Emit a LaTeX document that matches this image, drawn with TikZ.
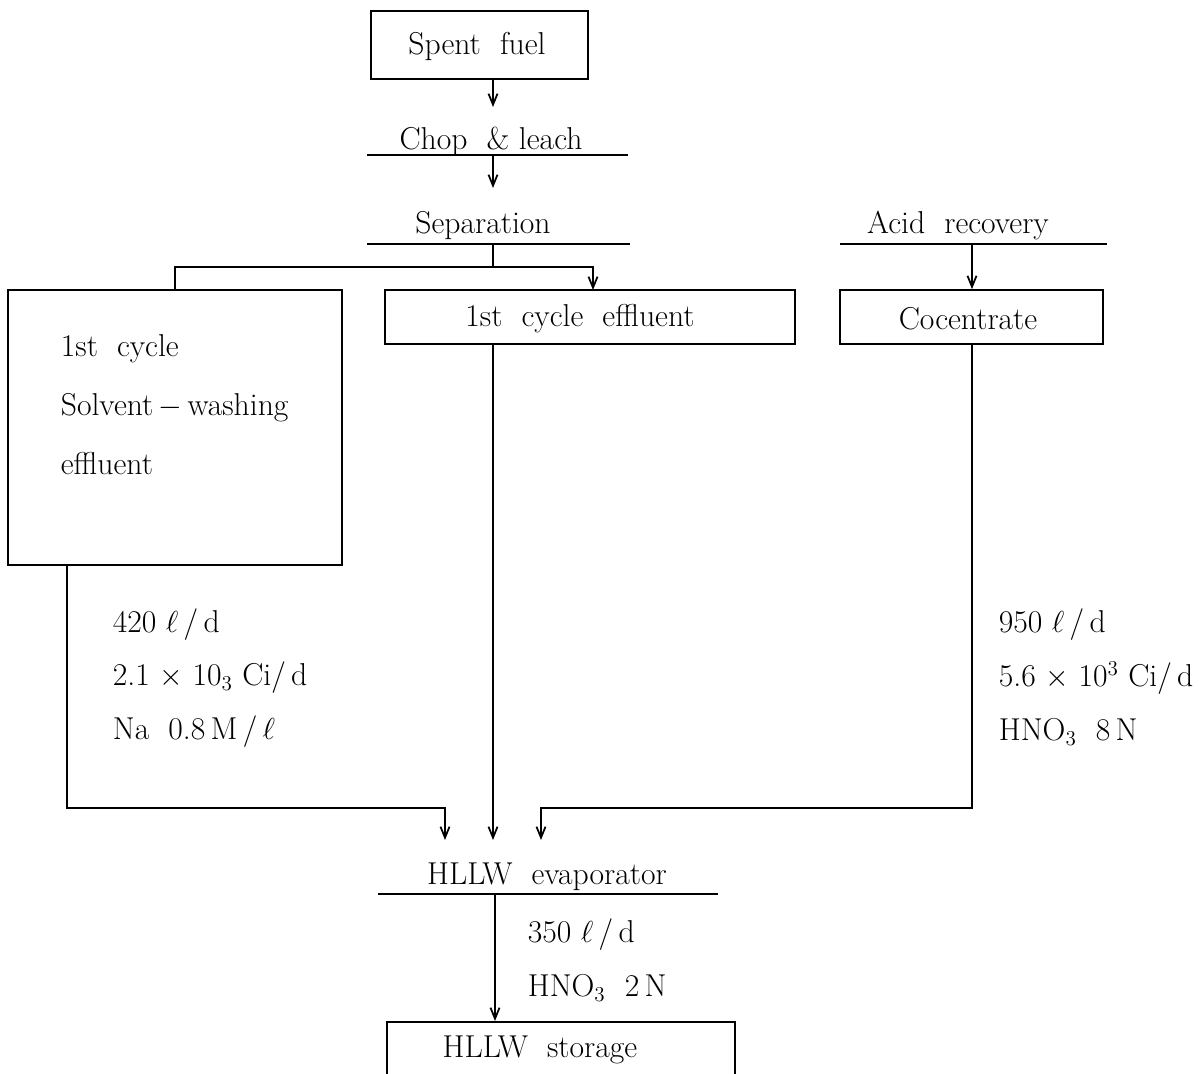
\documentclass[tikz,border=0pt]{standalone}
\usepackage{amsmath,amssymb}
\usepackage{tikz}
\usetikzlibrary{
    arrows.meta,
    positioning,
    calc
}
\newcommand{\flowfont}{\fontsize{18}{21}\selectfont}

\begin{document}
\begin{tikzpicture}[x=0.2mm,y=-0.2mm,
   box/.style={draw,rectangle,inner sep=0pt,font=\flowfont},
   lbl/.style={inner sep=0pt,font=\flowfont},
   every path/.style={line width=1pt},
   >={Straight Barb[length=2.2mm,width=1.8mm]}]
  \useasboundingbox (0,0) rectangle (1199,1073);
  % columns and bends
  \coordinate (colL) at (67,0); \coordinate (colM) at (493,0); \coordinate (colR) at (972,0);
  \coordinate (bendL) at (445,808); \coordinate (bendR) at (541,808);
  \coordinate (inL) at (445,840); \coordinate (inM) at (493,840); \coordinate (inR) at (541,840);
  % head of the process
  \node[box,minimum width=43.4mm,minimum height=13.6mm](spent) at (479.5,45){};
  \node[lbl](spenttxt) at (477,46){Spent\ \ fuel};
  \node[lbl](chop) at (491,141){Chop \ \& leach};
  \coordinate (chopL) at (367,155); \coordinate (chopR) at (628,155); \coordinate (chopM) at (493,155);
  \node[lbl](sep) at (483,226){Separation};
  \coordinate (sepL) at (367,244); \coordinate (sepR) at (630,244); \coordinate (sepM) at (493,244);
  \coordinate (jn) at (493,267);
  \draw (chopL)--(chopR); \draw (sepL)--(sepR);
  \draw[->] (spent.south -| colM)--(493,107);
  \draw[->] (chopM)--(493,188);
  % the three streams
  \node[box,minimum width=66.8mm,minimum height=55mm](solv) at (175,427.5){};
  \node[lbl,anchor=west,align=left,font=\fontsize{18}{33.6}\selectfont](solvtxt) at (60,405)
     {1st\ \ cycle\\Solvent\,$-$\,washing\\effluent};
  \node[box,minimum width=82mm,minimum height=10.8mm](fce) at (590,317){};
  \node[lbl](fcetxt) at (580,319){1st \ cycle \ effluent};
  \node[lbl](acid) at (958,226){Acid\ \ recovery};
  \coordinate (acidL) at (840,244); \coordinate (acidR) at (1107,244); \coordinate (acidM) at (972,244);
  \node[box,minimum width=52.6mm,minimum height=10.8mm](conc) at (971.5,317){};
  \node[lbl](conctxt) at (968,319){Cocentrate};
  \draw (sepM)--(jn); \draw (jn)-|(solv.north);
  \draw[->] (jn)-|(593,290);
  \draw (acidL)--(acidR);
  \draw[->] (acidM)--(conc.north -| colR);
  \draw[->] (solv.south -| colL)|-(bendL)--(inL);
  \draw[->] (fce.south -| colM)--(inM);
  \draw[->] (conc.south -| colR)|-(bendR)--(inR);
  % stream data
  \node[lbl,anchor=west](l1) at (112,625){420 $\ell$\,/\,d};
  \node[lbl,anchor=west](l2) at (112,678){2.1 $\times$ 10$_{3}$ Ci/\,d};
  \node[lbl,anchor=west](l3) at (112,732){Na\ \ 0.8\,M\,/\,$\ell$};
  \node[lbl,anchor=west](r1) at (998,625){950 $\ell$\,/\,d};
  \node[lbl,anchor=west](r2) at (998,678){5.6 $\times$ 10$^{3}$ Ci/\,d};
  \node[lbl,anchor=west](r3) at (998,732){HNO$_3$\ \ 8\,N};
  % evaporator and storage
  \node[lbl](evap) at (547,877){HLLW\ \ evaporator};
  \coordinate (evapL) at (378,894); \coordinate (evapR) at (718,894); \coordinate (evapM) at (495,894);
  \draw (evapL)--(evapR);
  \node[lbl,anchor=west](e1) at (527,935){350 $\ell$\,/\,d};
  \node[lbl,anchor=west](e2) at (527,988){HNO$_3$\ \ 2\,N};
  \node[box,anchor=north west,minimum width=69.6mm,minimum height=16mm](store) at (386,1021){};
  \node[lbl](storetxt) at (540,1050){HLLW\ \ storage};
  \draw[->] (evapM)--(store.north -| evapM);
\end{tikzpicture}
\end{document}
